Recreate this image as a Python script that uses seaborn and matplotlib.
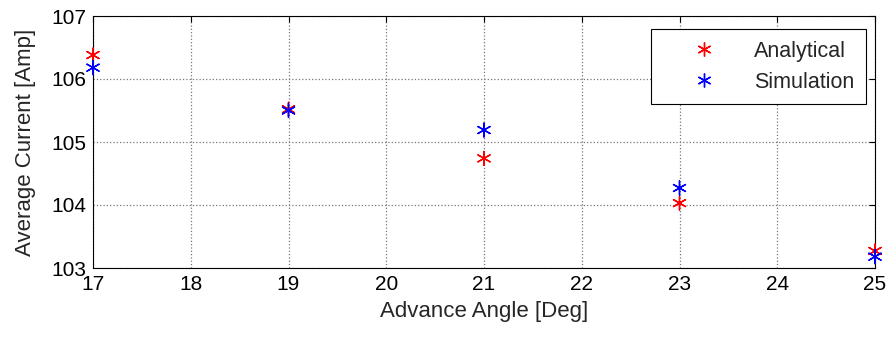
import matplotlib
matplotlib.use('Agg')

import pandas as pd
import matplotlib.pyplot as plt
import seaborn as sns

# --- Data ---
angles = [17, 19, 21, 23, 25]
analytical = [106.38, 105.52, 104.74, 104.03, 103.27]
simulation = [106.18, 105.50, 105.19, 104.27, 103.18]

df = pd.DataFrame({
    'Angle': angles * 2,
    'Current': analytical + simulation,
    'Series': ['Analytical'] * len(angles) + ['Simulation'] * len(angles),
})

sns.set_theme(style="white")
plt.rcParams['font.family'] = ['Liberation Sans', 'DejaVu Sans']
plt.rcParams['xtick.direction'] = 'in'
plt.rcParams['ytick.direction'] = 'in'

fig = plt.figure(figsize=(8.92, 3.37), dpi=100)
ax = fig.add_axes([93 / 892, 1 - 268 / 337, (875 - 93) / 892, (268 - 16) / 337])

sns.scatterplot(
    data=df, x='Angle', y='Current', hue='Series',
    palette={'Analytical': '#ff0000', 'Simulation': '#0000ff'},
    marker=(6, 2, 0), s=100, linewidth=1.0, ax=ax, zorder=5,
)
for coll in ax.collections:
    coll.set_clip_on(False)

ax.set_xlim(17, 25)
ax.set_ylim(103, 107)
ax.set_xticks(range(17, 26))
ax.set_yticks(range(103, 108))
ax.grid(True, color='#777777', linestyle=':', linewidth=0.9)
for s in ax.spines.values():
    s.set_color('black')
    s.set_linewidth(0.8)
ax.tick_params(labelsize=15, colors='black', length=4, width=0.8, top=True, right=True, pad=5)
ax.set_xlabel('Advance Angle [Deg]', fontsize=16, labelpad=5)
ax.set_ylabel('Average Current [Amp]', fontsize=16, labelpad=11)

leg = ax.legend(loc='upper right', bbox_to_anchor=(0.9885, 0.948), fontsize=15.5,
                frameon=True, fancybox=False, borderaxespad=0,
                handletextpad=0.35, borderpad=0.55, labelspacing=0.45, handlelength=3.9)
leg.get_frame().set_edgecolor('black')
leg.get_frame().set_linewidth(0.8)
leg.get_frame().set_alpha(1)

fig.savefig('out.png', dpi=100)
